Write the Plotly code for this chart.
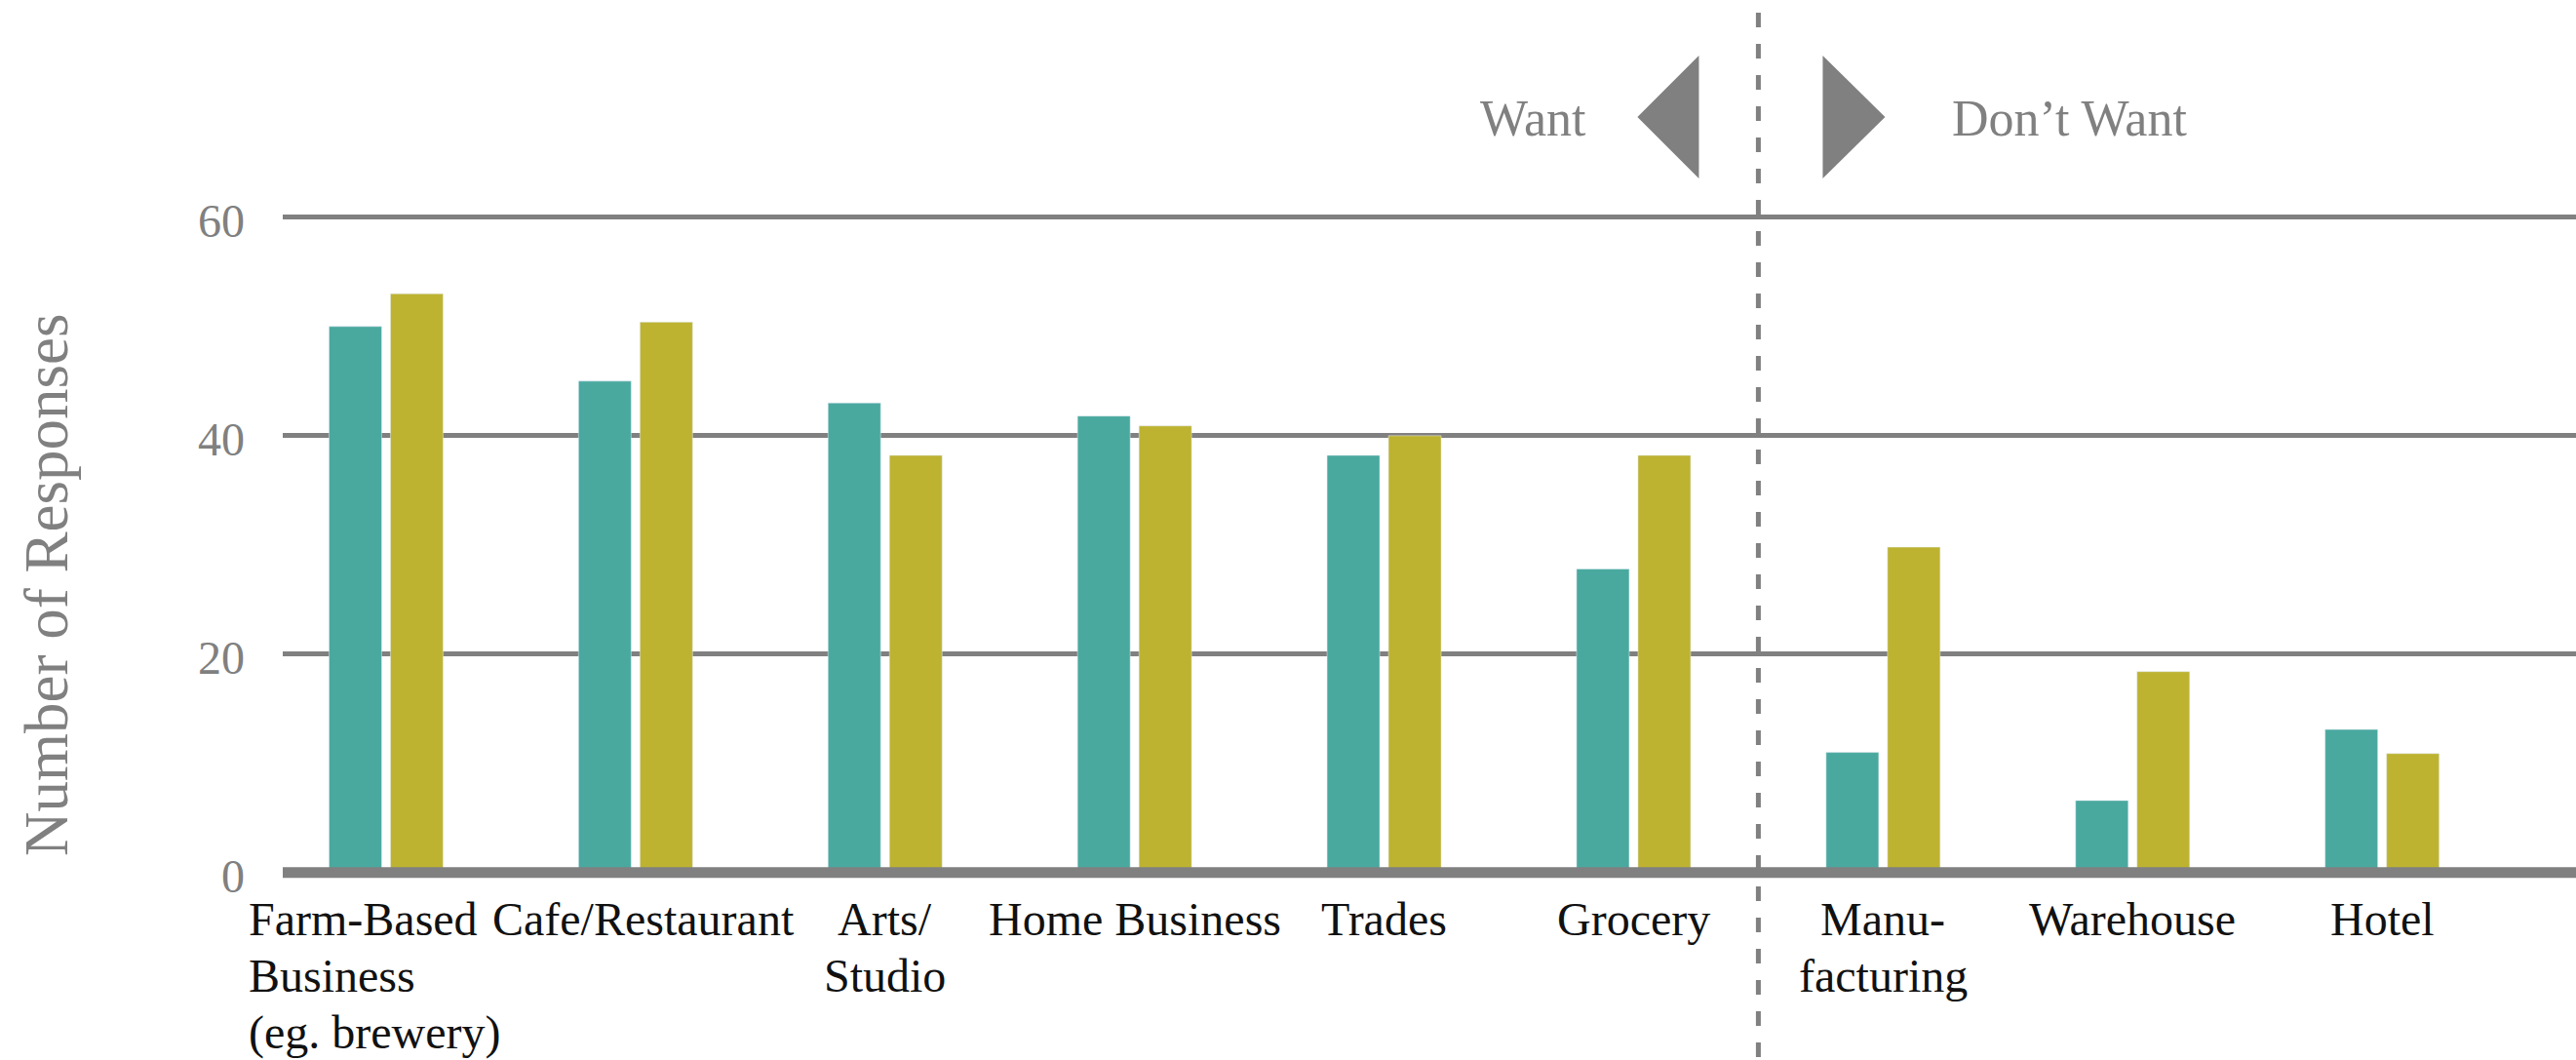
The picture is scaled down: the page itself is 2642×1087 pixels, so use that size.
import plotly.graph_objects as go

# ---------------- data ----------------
categories = ["Farm-Based Business (eg. brewery)", "Cafe/Restaurant", "Arts/Studio",
              "Home Business", "Trades", "Grocery", "Manufacturing", "Warehouse", "Hotel"]
tick_labels = ["Farm-Based<br>Business<br>(eg. brewery)", "Cafe/Restaurant", "Arts/<br>Studio",
               "Home Business", "Trades", "Grocery", "Manu-<br>facturing", "Warehouse", "Hotel"]
series_teal = [50, 45, 43, 41.8, 38.2, 27.8, 11, 6.6, 13.1]
series_gold = [53, 50.4, 38.2, 40.9, 40, 38.2, 29.8, 18.4, 10.9]
y_ticks = [0, 20, 40, 60]
divider_after = "Grocery"   # dashed line between "Want" and "Don't Want"

# ---------------- style ----------------
W, H = 2642, 1087
L, R, T, B = 290, 0, 178, 181
PW, PH = W - L - R, H - T - B
GRAY = "#808080"
TEAL = "#4AA99F"
GOLD = "#BDB331"
FONT = "Liberation Serif"
x_range = [-0.414, 8.777]
y_range = [-1, 64]
label_xshift = [-142, 8, 0, 0, 0, 0, 0, 0, 0]


def px_x(px):
    return (px - L) / PW


def px_y(py):
    return (H - B - py) / PH


fig = go.Figure()
fig.add_trace(go.Bar(x=categories, y=series_teal, marker_color=TEAL, name="A", hoverinfo="skip"))
fig.add_trace(go.Bar(x=categories, y=series_gold, marker_color=GOLD, name="B", hoverinfo="skip"))

shapes = []
# zero line (above bars)
shapes.append(dict(type="line", xref="paper", yref="y", x0=0, x1=1, y0=0, y1=0,
                   line=dict(color=GRAY, width=11), layer="above"))

# dashed divider
div_idx = categories.index(divider_after) + 0.5
div_paper = (div_idx - x_range[0]) / (x_range[1] - x_range[0])
div_px = L + div_paper * PW
shapes.append(dict(type="line", xref="paper", yref="paper", x0=div_paper, x1=div_paper,
                   y0=px_y(13), y1=px_y(H + 5),
                   line=dict(color=GRAY, width=5, dash="15px,17px"), layer="above"))

# triangles
def tri(points):
    p = " L".join(f"{px_x(a):.5f},{px_y(b):.5f}" for a, b in points)
    return "M" + p + " Z"

shapes.append(dict(type="path", xref="paper", yref="paper",
                   path=tri([(div_px - 124, 120), (div_px - 61, 57), (div_px - 61, 183)]),
                   fillcolor=GRAY, line=dict(width=0), layer="above"))
shapes.append(dict(type="path", xref="paper", yref="paper",
                   path=tri([(div_px + 66, 57), (div_px + 130, 120), (div_px + 66, 183)]),
                   fillcolor=GRAY, line=dict(width=0), layer="above"))

annotations = []
annotations.append(dict(text="Want", xref="paper", yref="paper", x=px_x(div_px - 174), y=px_y(121),
                        xanchor="right", yanchor="middle", showarrow=False,
                        font=dict(family=FONT, size=52, color=GRAY)))
annotations.append(dict(text="Don\u2019t Want", xref="paper", yref="paper", x=px_x(div_px + 197), y=px_y(121),
                        xanchor="left", yanchor="middle", showarrow=False,
                        font=dict(family=FONT, size=52, color=GRAY)))
# y title
annotations.append(dict(text="Number of Responses", xref="paper", yref="paper", x=px_x(48), y=px_y(600),
                        xanchor="center", yanchor="middle", textangle=-90, showarrow=False,
                        font=dict(family=FONT, size=63, color=GRAY)))

# category labels, line by line
LINE_GAP = 58
for i, (cat, lab) in enumerate(zip(categories, tick_labels)):
    lines = lab.split("<br>")
    for j, line in enumerate(lines):
        a = dict(text=line, xref="x", yref="paper", x=cat, y=px_y(915), yshift=-j * LINE_GAP,
                 xshift=label_xshift[i], yanchor="top", showarrow=False, borderpad=0,
                 font=dict(family=FONT, size=48, color="#111111"))
        a.update(xanchor="left" if i == 0 else "center")
        annotations.append(a)

fig.update_layout(
    width=W, height=H,
    margin=dict(l=L, r=R, t=T, b=B, pad=0),
    paper_bgcolor="white", plot_bgcolor="white",
    barmode="group", bargap=0.5076, bargroupgap=0.143,
    showlegend=False,
    shapes=shapes, annotations=annotations,
    xaxis=dict(type="category", range=x_range, showticklabels=False, showgrid=False,
               zeroline=False, showline=False, ticks=""),
    yaxis=dict(range=y_range, tickvals=y_ticks, ticktext=[str(v) for v in y_ticks],
               showgrid=True, gridcolor=GRAY, gridwidth=5, zeroline=False, showline=False,
               ticks="", ticklabelstandoff=38, ticklabelshift=3,
               tickfont=dict(family=FONT, size=48, color=GRAY)),
)

fig.write_html("out.html")
